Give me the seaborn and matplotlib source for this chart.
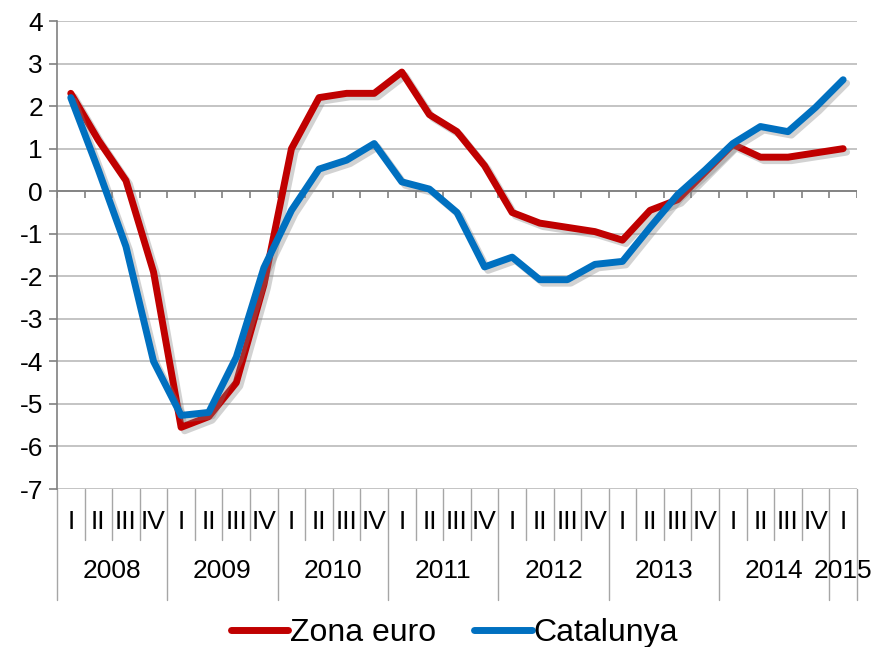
import numpy as np
import pandas as pd
import seaborn as sns
import matplotlib.pyplot as plt
import matplotlib.patheffects as pe

# Quarterly data, 2008 I .. 2015 I
years = ['2008', '2009', '2010', '2011', '2012', '2013', '2014', '2015']
quarters = ['I', 'II', 'III', 'IV']
zona_euro = [2.3, 1.2, 0.25, -1.9,
             -5.55, -5.3, -4.5, -2.2,
             1.0, 2.2, 2.3, 2.3,
             2.8, 1.8, 1.4, 0.6,
             -0.5, -0.75, -0.85, -0.95,
             -1.15, -0.45, -0.2, 0.45,
             1.1, 0.8, 0.8, 0.9,
             1.0]
catalunya = [2.2, 0.5, -1.3, -4.0,
             -5.27, -5.2, -3.9, -1.8,
             -0.45, 0.52, 0.73, 1.12,
             0.22, 0.05, -0.5, -1.78,
             -1.55, -2.08, -2.08, -1.72,
             -1.65, -0.85, -0.08, 0.5,
             1.12, 1.52, 1.4, 1.97,
             2.62]

n = len(zona_euro)
quarter_labels = [quarters[i % 4] for i in range(n)]
year_of = [years[i // 4] for i in range(n)]

df = pd.DataFrame({
    'idx': list(range(n)) * 2,
    'value': zona_euro + catalunya,
    'serie': ['Zona euro'] * n + ['Catalunya'] * n,
})

sns.set_style('white')
plt.rcParams['font.family'] = ['Liberation Sans', 'DejaVu Sans']
plt.rcParams['text.color'] = 'black'
plt.rcParams['ytick.labelcolor'] = 'black'

fig = plt.figure(figsize=(8.74, 6.47), dpi=100)
ax = fig.add_axes([0.0652, 0.2442, 0.9153, 0.7233])

sns.lineplot(data=df, x='idx', y='value', hue='serie',
             hue_order=['Zona euro', 'Catalunya'],
             palette={'Zona euro': '#C00000', 'Catalunya': '#0070C0'},
             linewidth=5, ax=ax, legend=False)
for line in ax.lines:
    line.set_solid_capstyle('round')
    line.set_solid_joinstyle('round')
    line.set_path_effects([pe.SimpleLineShadow(offset=(2.5, -2.5), shadow_color='gray', alpha=0.35),
                           pe.Normal()])

ax.set_xlim(-0.5, n - 0.5)
ax.set_ylim(-7, 4)
ax.set_yticks(range(-7, 5))
ax.set_yticklabels([str(v) for v in range(-7, 5)], fontsize=19, color='black')
ax.yaxis.grid(True, color='#BFBFBF', linewidth=1.3)
ax.set_axisbelow(True)
ax.tick_params(axis='y', direction='out', length=6, width=1.2, color='#808080', pad=4, left=True)
ax.set_xticks([])
ax.set_xlabel('')
ax.set_ylabel('')
for s in ['top', 'right', 'bottom']:
    ax.spines[s].set_visible(False)
ax.spines['left'].set_color('#808080')
ax.spines['left'].set_linewidth(1.2)

# horizontal axis line at zero with small ticks at category boundaries
ax.axhline(0, color='#808080', linewidth=1.3, zorder=1)
bounds = np.arange(n + 1) - 0.5
ax.vlines(bounds, -0.15, 0, color='#808080', linewidth=1.2, zorder=1)

# multi-level category axis below the plot
tr = ax.get_xaxis_transform()
for b in bounds:
    k = int(b + 0.5)
    y_end = -0.237 if (k % 4 == 0 or k == n) else -0.109
    ax.plot([b, b], [0, y_end], transform=tr, color='#A6A6A6', linewidth=1.0, clip_on=False)
for i, q in enumerate(quarter_labels):
    ax.text(i, -0.07, q, transform=tr, ha='center', va='center', fontsize=19, color='black')
for j, y in enumerate(years):
    idxs = [i for i in range(n) if year_of[i] == y]
    ax.text(np.mean(idxs), -0.175, y, transform=tr, ha='center', va='center', fontsize=19, color='black')

# legend
handles = [plt.Line2D([], [], color='#C00000', linewidth=5, solid_capstyle='round'),
           plt.Line2D([], [], color='#0070C0', linewidth=5, solid_capstyle='round')]
fig.legend(handles, ['Zona euro', 'Catalunya'], loc='center', bbox_to_anchor=(0.52, 0.021),
           ncol=2, frameon=False, fontsize=23, handlelength=1.8, handletextpad=0.05,
           columnspacing=1.2, borderaxespad=0)

fig.savefig('out.png', dpi=100)
